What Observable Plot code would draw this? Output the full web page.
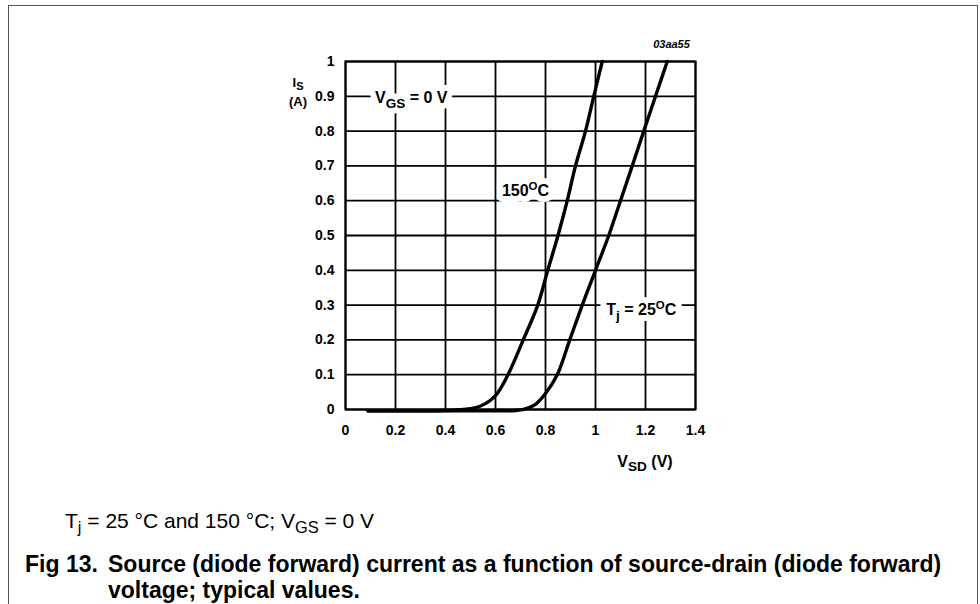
<!DOCTYPE html>
<html><head><meta charset="utf-8">
<script src="https://cdn.jsdelivr.net/npm/d3@7"></script>
<script src="https://cdn.jsdelivr.net/npm/@observablehq/plot@0.6"></script>
<style>
body{margin:0;background:#fff;font-family:"Liberation Sans",Arial,sans-serif;color:#000;}
#page{position:relative;width:980px;height:604px;overflow:hidden;}
#chart{position:absolute;left:0;top:0;}
#border{position:absolute;left:8px;top:5px;width:970px;height:700px;border:1.5px solid #555;border-bottom:none;box-sizing:border-box;}
#cond{position:absolute;left:65px;top:509px;font-size:21px;line-height:24px;white-space:nowrap;}
#fig{position:absolute;left:25px;top:551px;font-size:23px;line-height:26px;font-weight:bold;display:flex;white-space:nowrap;}
#fig .n{width:83px;flex:none;}
sub{font-size:0.78em;vertical-align:-0.28em;line-height:0;}
</style></head><body>
<div id="page">
<div id="chart"></div>
<div id="border"></div>
<div id="cond">T<sub>j</sub> = 25 °C and 150 °C; V<sub>GS</sub> = 0 V</div>
<div id="fig"><span class="n">Fig 13.</span><span>Source (diode forward) current as a function of source-drain (diode forward)<br>voltage; typical values.</span></div>
</div>
<script>
// ---- data ----
const xTicks = [0, 0.2, 0.4, 0.6, 0.8, 1, 1.2, 1.4];
const xTickLabels = ["0", "0.2", "0.4", "0.6", "0.8", "1", "1.2", "1.4"];
const yTicks = [0, 0.1, 0.2, 0.3, 0.4, 0.5, 0.6, 0.7, 0.8, 0.9, 1];
const yTickLabels = ["0", "0.1", "0.2", "0.3", "0.4", "0.5", "0.6", "0.7", "0.8", "0.9", "1"];

// Tj = 150 °C
const vsd150 = [0.09, 0.2, 0.3, 0.4, 0.47, 0.54, 0.6, 0.65, 0.711, 0.769, 0.809, 0.85, 0.887, 0.92, 0.96, 0.993, 1.027];
const is150  = [-0.004, -0.004, -0.004, -0.003, 0, 0.01, 0.04, 0.1, 0.2, 0.3, 0.4, 0.5, 0.6, 0.7, 0.8, 0.9, 1.0];
// Tj = 25 °C
const vsd25 = [0.09, 0.3, 0.5, 0.6, 0.68, 0.72, 0.76, 0.8, 0.847, 0.897, 0.947, 1.0, 1.053, 1.1, 1.147, 1.193, 1.24, 1.287];
const is25  = [-0.004, -0.004, -0.004, -0.004, -0.003, 0.002, 0.015, 0.046, 0.1, 0.2, 0.3, 0.4, 0.5, 0.6, 0.7, 0.8, 0.9, 1.0];

// annotations (data coordinates)
const curveLabels = [
  {x: 0.263, y: 0.895, t: "V_{GS} = 0 V"},
  {x: 0.72, y: 0.627, t: "150^{O}C"},
  {x: 1.183, y: 0.286, t: "T_{j} = 25^{O}C"}
];
const axisLabels = [
  {x: 1.198, y: -0.15, t: "V_{SD} (V)"}
];
const yLabel = [
  {x: -0.19, y: 0.94, t: "I_{S}"},
  {x: -0.19, y: 0.884, t: "(A)"}
];
const figId = [{x: 1.304, y: 1.049, t: "03aa55"}];

// ---- build ----
const t150 = vsd150.map((v, i) => ({v, i: is150[i]}));
const t25 = vsd25.map((v, i) => ({v, i: is25[i]}));

const chart = Plot.plot({
  width: 980, height: 480,
  marginLeft: 345, marginRight: 285, marginTop: 61, marginBottom: 71,
  style: {fontFamily: '"Liberation Sans", Arial, sans-serif', fontSize: "14px", fontWeight: "bold", color: "#000", background: "transparent", overflow: "visible"},
  x: {domain: [0, 1.4], ticks: xTicks, tickFormat: d => xTickLabels[xTicks.findIndex(t => Math.abs(t - d) < 1e-9)], tickSize: 0, tickPadding: 16, label: null},
  y: {domain: [0, 1], ticks: yTicks, tickFormat: d => yTickLabels[yTicks.findIndex(t => Math.abs(t - d) < 1e-9)], tickSize: 0, tickPadding: 11, label: null},
  marks: [
    Plot.ruleX(xTicks, {stroke: "#000", strokeWidth: 1.8}),
    Plot.ruleY(yTicks, {stroke: "#000", strokeWidth: 1.8}),
    Plot.frame({stroke: "#000", strokeWidth: 2}),
    Plot.line(t150, {x: "v", y: "i", curve: "catmull-rom", stroke: "#000", strokeWidth: 3.4}),
    Plot.line(t25, {x: "v", y: "i", curve: "catmull-rom", stroke: "#000", strokeWidth: 3.4}),
    // white backing behind the curve labels, then the labels themselves
    Plot.text(curveLabels, {x: "x", y: "y", text: "t", fontSize: 16, fontWeight: "bold", fill: "#fff", stroke: "#fff", strokeWidth: 12}),
    Plot.text(curveLabels, {x: "x", y: "y", text: "t", fontSize: 16, fontWeight: "bold", fill: "#000"}),
    Plot.text(axisLabels, {x: "x", y: "y", text: "t", fontSize: 16, fontWeight: "bold", fill: "#000"}),
    Plot.text(yLabel, {x: "x", y: "y", text: "t", fontSize: 13, fontWeight: "bold", fill: "#000"}),
    Plot.text(figId, {x: "x", y: "y", text: "t", fontSize: 11, fontStyle: "italic", fontWeight: "bold", fill: "#000"})
  ]
});

function rich(svg) {
  d3.select(svg).selectAll("text").each(function () {
    const s = this.textContent;
    if (!/[_^]\{/.test(s)) return;
    const el = d3.select(this);
    const fs = parseFloat(this.getAttribute("font-size")) || parseFloat(this.parentNode.getAttribute("font-size")) || 14;
    while (this.firstChild) this.removeChild(this.firstChild);
    let shift = 0;
    for (const part of s.split(/(_\{[^}]*\}|\^\{[^}]*\})/)) {
      if (!part) continue;
      let d = 0, txt = part, size = null;
      if (part.startsWith("_{")) { d = fs * 0.28; txt = part.slice(2, -1); size = fs * 0.85; }
      else if (part.startsWith("^{")) { d = -fs * 0.4; txt = part.slice(2, -1); size = fs * 0.72; }
      const ts = el.append("tspan").attr("dy", d - shift).text(txt);
      if (size) ts.attr("font-size", size);
      shift = d;
    }
  });
}
rich(chart);
document.getElementById("chart").appendChild(chart);
</script>
</body></html>
